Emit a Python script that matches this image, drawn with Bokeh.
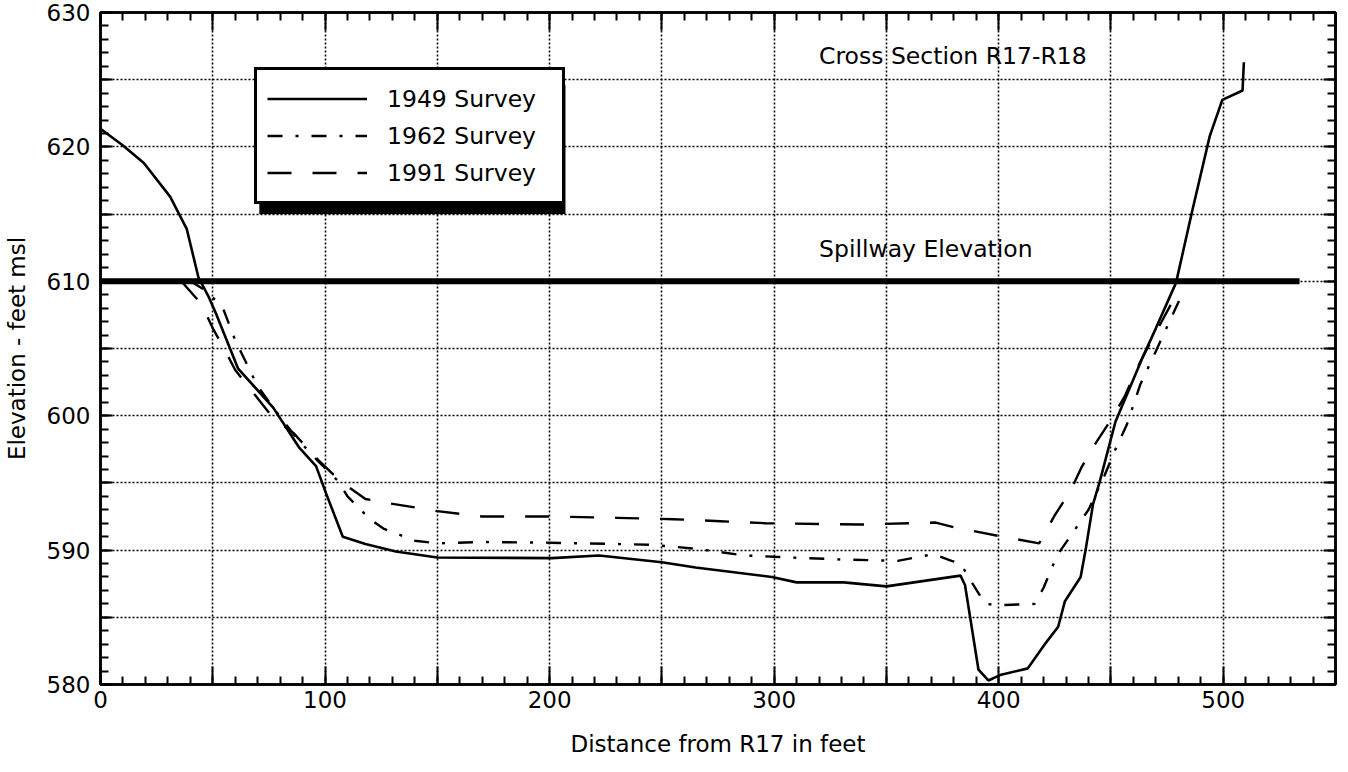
from bokeh.plotting import figure
from bokeh.models import (LinearAxis, FixedTicker, Range1d, Legend, LegendItem,
                          BoxAnnotation, Label, CustomJSTickFormatter)
from bokeh.embed import file_html
from bokeh.resources import INLINE

# ---------------- data ----------------
x_1949 = [0, 10, 19.3, 31, 38.4, 43.6, 48, 51.7, 61.3, 76.9, 88.6, 96, 100.5, 107.9,
          118, 131.5, 150, 201, 222, 250, 265, 299, 310, 331, 350, 383, 385, 391,
          395.4, 400.6, 413, 421, 426.5, 429.5, 436.5, 438.9, 442, 445, 452, 464,
          470, 479, 486, 494, 499.6, 508.6, 509.2]
y_1949 = [621.35, 620.1, 618.8, 616.3, 613.9, 610.3, 608.9, 607.5, 603.5, 600.6, 597.6,
          596.25, 594.2, 591.0, 590.45, 589.9, 589.45, 589.4, 589.6, 589.1, 588.7, 588.0,
          587.6, 587.6, 587.3, 588.1, 587.4, 581.1, 580.3, 580.7, 581.2, 583.1, 584.3,
          586.2, 588.0, 590.2, 593.4, 595.1, 599.55, 604.3, 606.5, 609.9, 615.1, 620.8,
          623.5, 624.2, 626.3]

x_1962 = [40, 47, 50, 55, 60, 70, 80, 88, 97, 106, 110, 120, 126, 140, 150, 170, 200,
          245, 265, 287, 300, 330, 355, 371, 379, 383, 388, 394, 400, 416, 420, 426,
          433, 440, 447, 452, 457, 463, 470, 481]
y_1962 = [610.0, 609.3, 608.8, 607.8, 605.6, 602.2, 599.9, 598.2, 596.6, 595.1, 594.0,
          592.3, 591.6, 590.7, 590.5, 590.6, 590.55, 590.4, 590.1, 589.6, 589.5, 589.3,
          589.2, 589.7, 589.2, 589.0, 587.6, 586.0, 585.9, 586.0, 587.2, 589.6, 591.3,
          593.0, 595.5, 597.5, 599.3, 602.3, 604.8, 608.8]

x_1991 = [36, 45, 50, 55, 60, 69, 77, 86, 97, 107, 118, 128, 150, 170, 200, 230, 255,
          276, 296, 338, 360, 372, 380, 400, 418, 425, 432, 437, 443, 450, 456, 463,
          470, 480]
y_1991 = [610.0, 608.3, 606.5, 605.0, 603.4, 601.5, 599.8, 598.7, 596.7, 595.1, 593.8,
          593.5, 592.9, 592.5, 592.5, 592.4, 592.3, 592.15, 592.0, 591.9, 592.0, 592.05,
          591.7, 591.05, 590.5, 592.6, 594.4, 596.2, 597.9, 599.7, 601.4, 604.0, 606.2,
          609.3]

spillway_x = [0, 534]
spillway_y = [610, 610]

series_labels = ["1949 Survey", "1962 Survey", "1991 Survey"]
x_major = list(range(0, 551, 50))
x_minor = list(range(0, 551, 10))
y_major = list(range(580, 631, 5))
y_minor = list(range(580, 631, 1))

FONT = "DejaVu Sans"
FS_TICK = "23px"
FS_TEXT = "23.5px"

p = figure(frame_width=1235, frame_height=672,
           x_range=Range1d(0, 550), y_range=Range1d(580, 630),
           output_backend="svg", toolbar_location=None,
           min_border_left=95, min_border_top=12, min_border_right=2, min_border_bottom=0,
           background_fill_color="white", border_fill_color="white")

p.outline_line_color = "black"
p.outline_line_width = 2.5

xfmt = CustomJSTickFormatter(code="return (Math.round(tick) % 100 === 0) ? Math.round(tick).toString() : '';")
yfmt = CustomJSTickFormatter(code="return (Math.round(tick) % 10 === 0) ? Math.round(tick).toString() : '';")


def style_axis(ax, is_x, labels, major_len, minor_len):
    ax.ticker = FixedTicker(ticks=x_major if is_x else y_major,
                            minor_ticks=x_minor if is_x else y_minor)
    ax.axis_line_color = "black"
    ax.axis_line_width = 2.5
    ax.major_tick_line_color = "black"
    ax.major_tick_line_width = 2
    ax.minor_tick_line_color = "black"
    ax.minor_tick_line_width = 2
    ax.major_tick_in = major_len
    ax.major_tick_out = 0
    ax.minor_tick_in = minor_len
    ax.minor_tick_out = 0
    ax.major_label_text_font = FONT
    ax.major_label_text_color = "black"
    if labels:
        ax.major_label_text_font_size = FS_TICK
    else:
        ax.major_label_text_font_size = "0px"
        ax.major_label_standoff = 0


bottom = p.xaxis[0]
left = p.yaxis[0]
top = LinearAxis()
right = LinearAxis()
p.add_layout(top, "above")
p.add_layout(right, "right")

style_axis(bottom, True, True, 18, 8)
style_axis(top, True, False, 18, 8)
style_axis(left, False, True, 12, 8)
style_axis(right, False, False, 12, 8)
bottom.formatter = xfmt
left.formatter = yfmt
bottom.major_label_standoff = 6
left.major_label_standoff = 10

bottom.axis_label = "Distance from R17 in feet"
left.axis_label = "Elevation - feet msl"
for ax in (bottom, left):
    ax.axis_label_text_font = FONT
    ax.axis_label_text_font_size = FS_TICK
    ax.axis_label_text_font_style = "normal"
    ax.axis_label_text_color = "black"
bottom.axis_label_standoff = 20
left.axis_label_standoff = 14

for g in (p.xgrid[0], p.ygrid[0]):
    g.grid_line_color = "black"
    g.grid_line_width = 1.6
    g.grid_line_dash = "2 2"

# spillway line
p.line(spillway_x, spillway_y, line_width=6, line_color="black")

r49 = p.line(x_1949, y_1949, line_width=2.6, line_color="black")
r62 = p.line(x_1962, y_1962, line_width=2.4, line_color="black", line_dash="15 13 3 13")
r91 = p.line(x_1991, y_1991, line_width=2.4, line_color="black", line_dash="24 21")

p.add_layout(Label(x=320, y=626.8, text="Cross Section R17-R18", text_font=FONT,
                   text_font_size=FS_TEXT, text_baseline="middle", text_color="black"))
p.add_layout(Label(x=320, y=612.4, text="Spillway Elevation", text_font=FONT,
                   text_font_size=FS_TEXT, text_baseline="middle", text_color="black"))

# legend drop shadow
p.add_layout(BoxAnnotation(left=70.8, right=207.0, top=624.6, bottom=615.0,
                           fill_color="black", fill_alpha=1.0, line_color="black",
                           level="annotation"))

legend = Legend(items=[LegendItem(label=series_labels[0], renderers=[r49]),
                       LegendItem(label=series_labels[1], renderers=[r62]),
                       LegendItem(label=series_labels[2], renderers=[r91])],
                location=(154, 480), orientation="vertical",
                border_line_color="black", border_line_width=3, border_line_alpha=1,
                background_fill_color="white", background_fill_alpha=1,
                label_text_font=FONT, label_text_font_size=FS_TEXT, label_text_color="black",
                padding=10, spacing=0, margin=0, glyph_width=100, glyph_height=37,
                label_height=37, label_width=165, label_standoff=20)
p.add_layout(legend, "center")

open("out.html", "w").write(file_html(p, INLINE))
